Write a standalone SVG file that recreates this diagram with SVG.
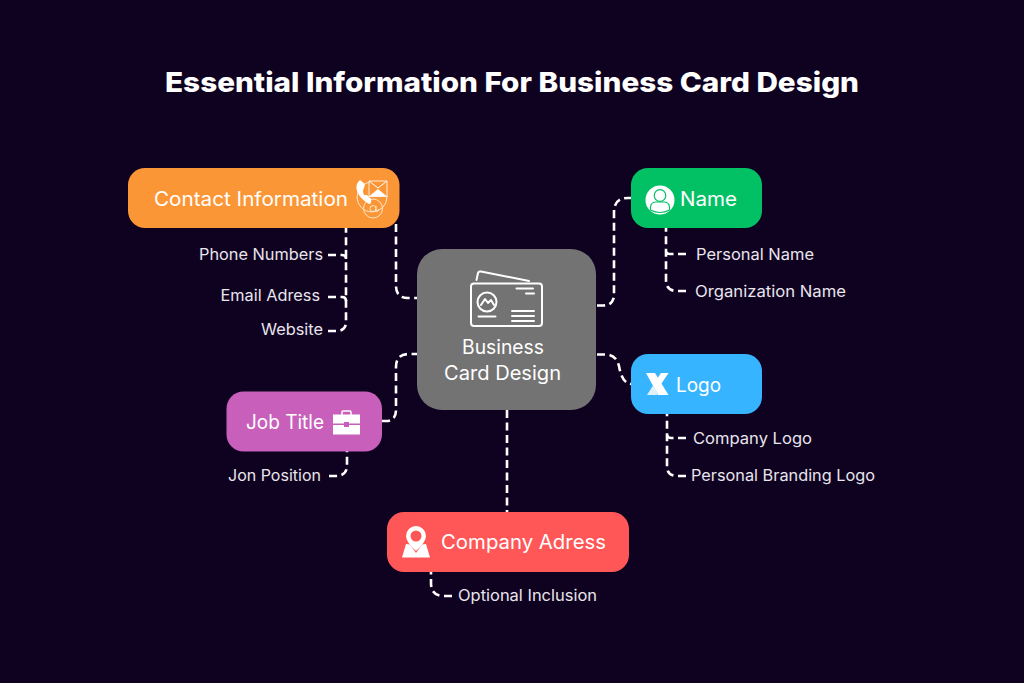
<svg xmlns="http://www.w3.org/2000/svg" width="1024" height="683" viewBox="0 0 1024 683">
<style>
text{font-family:"Inter","Liberation Sans",sans-serif;fill:#fff}
.t{font-size:19.500px;font-weight:400}
.s{font-size:15.500px;fill:#e9e5ee}
.h{font-size:27.500px;font-weight:800}
#connectors path{fill:none;stroke:#fff;stroke-width:2.600;stroke-dasharray:8 4.500}
.ol{fill:none;stroke:#fff;stroke-width:2;stroke-linecap:round;stroke-linejoin:round}
.th{fill:none;stroke:#ffe6cc;stroke-width:1}
</style>
<rect width="1024" height="683" fill="#0f0220"/>
<text class="h" x="165" y="92" textLength="694" lengthAdjust="spacingAndGlyphs">Essential Information For Business Card Design</text>
<g id="connectors">
<path d="M328 331H336Q346 331 346 322V228"/>
<path d="M328 255H342Q346 255 346 259"/>
<path d="M328 297H342Q346 297 346 301"/>
<path d="M396 224V286Q396 298 408 298H417"/>
<path d="M597 305.500H603Q614 305.500 614 294V212Q614 198 628 198H631"/>
<path d="M686 291H677Q666 291 666 280V228"/>
<path d="M686 254H670Q666 254 666 250"/>
<path d="M597 354.500H606Q616 354.500 619 366Q622 384 632 384"/>
<path d="M686 476H677Q667 476 667 466V414"/>
<path d="M686 438H671Q667 438 667 434"/>
<path d="M382 421H386Q396 421 396 410V367Q396 354 409 354H417"/>
<path d="M329 476H336Q347 476 347 465V451"/>
<path d="M507 410V512"/>
<path d="M452 596H444Q431 596 431 583V572"/>
</g>
<g id="node-contact">
<rect x="128" y="168" width="271.500" height="60" rx="17" fill="#fb9637"/>
<text class="t" x="154" y="205.500" textLength="194" lengthAdjust="spacingAndGlyphs">Contact Information</text>
<circle class="th" cx="372" cy="197" r="15"/>
<circle cx="373" cy="208.500" r="9.500" fill="#fb9637" class="th"/>
<circle class="th" cx="373" cy="208.500" r="3"/>
<path class="th" d="M376 206V211Q378 212 379 209"/>
<path d="M360 180Q355 184 357 191Q360 199 369 204Q372 204 371 199L367 195L364 195Q362 191 364 188L365 184Z" fill="#fff"/>
<path d="M369 181H387V196.500H369Z" fill="#fb9637" stroke="#fff" stroke-width=".8"/>
<path d="M369 196.500L378 189L387 196.500Z" fill="#fff"/>
<path d="M369 181L378 188L387 181" fill="none" stroke="#fff"/>
</g>
<g id="node-center">
<rect x="417" y="249" width="179" height="161" rx="25" fill="#737373"/>
<rect class="ol" x="471" y="283.500" width="71" height="42.500" rx="3"/>
<path class="ol" d="M476.500 280L478 273Q478.500 271 481 271.500L529 281"/>
<circle class="ol" cx="487" cy="302" r="9.500"/>
<path class="ol" d="M481 305L485 299L488 303L491 300L494 305M478.500 316.500H495.500M516.500 288.500H533M526 293.500H534M512 311H534M512 316H534M512 321H534"/>
<text class="t" x="462" y="354" textLength="82" lengthAdjust="spacingAndGlyphs">Business</text>
<text class="t" x="444" y="380" textLength="117" lengthAdjust="spacingAndGlyphs">Card Design</text>
</g>
<g id="node-name">
<rect x="631" y="168" width="131" height="60" rx="17" fill="#02c165"/>
<circle cx="660" cy="200" r="14.500" fill="#fff"/>
<circle cx="660" cy="195.500" r="5.800" fill="#fff" stroke="#02c165" stroke-width="1.200"/>
<path d="M650.500 210V207Q651 202 656 202H664Q669 202 669.500 207V210Q660 215 650.500 210Z" fill="#fff" stroke="#02c165" stroke-width="1.200"/>
<text class="t" x="680" y="205.500" textLength="57" lengthAdjust="spacingAndGlyphs">Name</text>
</g>
<g id="node-logo">
<rect x="631" y="354" width="131" height="60" rx="17" fill="#36b4ff"/>
<path d="M646 373H655L668.500 395H658Z" fill="#fff"/>
<path d="M647 395L653 385.500L658 393L657 395Z" fill="#dff0fb"/>
<path d="M668.500 373L660.500 385L657 379L661 373Z" fill="#fff"/>
<text class="t" x="676" y="391.500" textLength="45" lengthAdjust="spacingAndGlyphs">Logo</text>
</g>
<g id="node-job">
<rect x="226.500" y="391.500" width="155.500" height="60" rx="17" fill="#c75fbb"/>
<text class="t" x="246" y="428.500" textLength="78" lengthAdjust="spacingAndGlyphs">Job Title</text>
<path d="M342 415V412Q342 411 343 411H350Q351 411 351 412V415" fill="none" stroke="#fff" stroke-width="1.500"/>
<path d="M333 414.500H360V423.500H349V422H344V423.500H333ZM333 425H344V427H349V425H360V434.500H333Z" fill="#fff"/>
</g>
<g id="node-company">
<rect x="387" y="512" width="242" height="60" rx="17" fill="#ff5757"/>
<path d="M406 544L402 557.500H430L426 544L422 544.500L416 553L410 544.500Z" fill="#fff"/>
<path fill-rule="evenodd" d="M416 526A10 10 0 0 1 426 536Q426 542 416 551Q406 542 406 536A10 10 0 0 1 416 526ZM416 530.500A5.500 5.500 0 1 0 416 541.500A5.500 5.500 0 1 0 416 530.500Z" fill="#fff"/>
<text class="t" x="441" y="548.500" textLength="165" lengthAdjust="spacingAndGlyphs">Company Adress</text>
</g>
<g id="labels">
<text class="s" x="199" y="259.500" textLength="124" lengthAdjust="spacingAndGlyphs">Phone Numbers</text>
<text class="s" x="220.500" y="300.500" textLength="99.500" lengthAdjust="spacingAndGlyphs">Email Adress</text>
<text class="s" x="261" y="334.500" textLength="62" lengthAdjust="spacingAndGlyphs">Website</text>
<text class="s" x="696" y="259.500" textLength="118" lengthAdjust="spacingAndGlyphs">Personal Name</text>
<text class="s" x="695" y="296.500" textLength="151" lengthAdjust="spacingAndGlyphs">Organization Name</text>
<text class="s" x="693" y="443.500" textLength="119" lengthAdjust="spacingAndGlyphs">Company Logo</text>
<text class="s" x="691" y="480.500" textLength="184" lengthAdjust="spacingAndGlyphs">Personal Branding Logo</text>
<text class="s" x="228" y="480.500" textLength="93" lengthAdjust="spacingAndGlyphs">Jon Position</text>
<text class="s" x="458" y="600.500" textLength="139" lengthAdjust="spacingAndGlyphs">Optional Inclusion</text>
</g>
</svg>
